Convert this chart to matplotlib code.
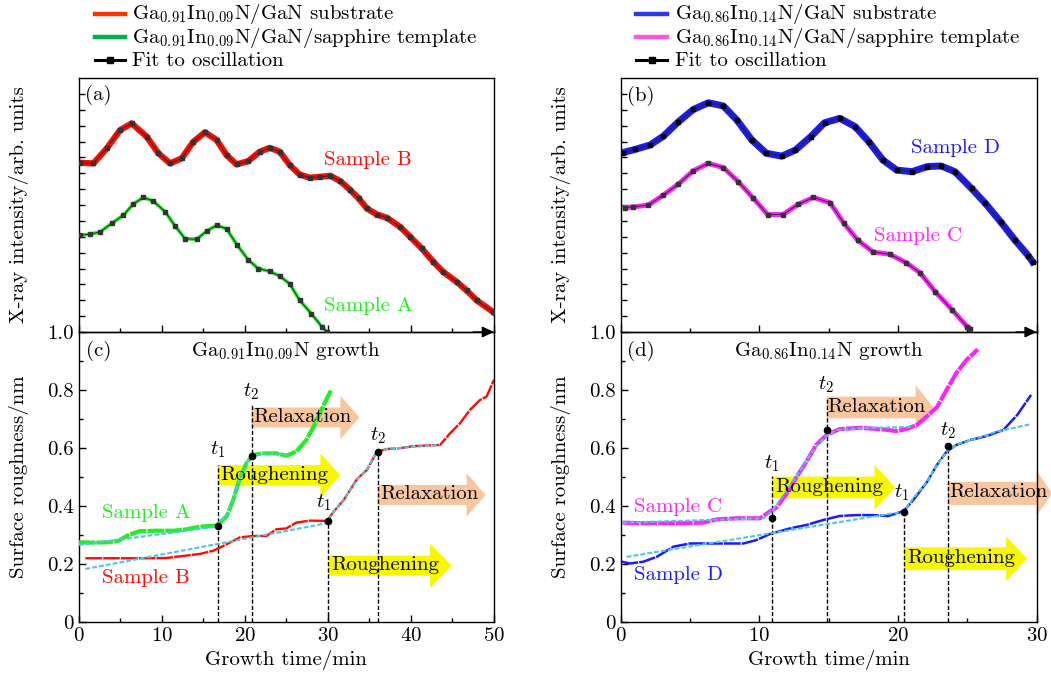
import numpy as np
import matplotlib
matplotlib.use("Agg")
import matplotlib.pyplot as plt
from matplotlib.lines import Line2D
from matplotlib.patches import FancyArrow

plt.rcParams['font.family'] = ['cmr10', 'DejaVu Serif']
plt.rcParams['mathtext.fontset'] = 'cm'
plt.rcParams['axes.formatter.use_mathtext'] = True
plt.rcParams['lines.scale_dashes'] = False
plt.rcParams['axes.linewidth'] = 1.0

# ---- (a) X-ray intensity, Ga0.91In0.09N ----
tB = [0.16, 1.77, 3.37, 4.98, 6.38, 8.19, 9.59, 11.0, 12.4, 13.8, 15.2, 16.6, 17.8, 19.0,
      20.4, 21.8, 23.0, 24.2, 25.4, 26.6, 27.8, 29.1, 30.3, 31.5, 32.7, 33.7, 34.7, 35.9,
      37.1, 38.7, 39.9, 41.3, 42.7, 43.9, 45.5, 46.7, 47.9, 49.9]
iB = [6.33, 6.31, 6.78, 7.36, 7.57, 7.15, 6.63, 6.31, 6.47, 6.99, 7.29, 7.05, 6.57, 6.28,
      6.38, 6.68, 6.80, 6.68, 6.26, 5.96, 5.86, 5.89, 5.92, 5.75, 5.47, 5.21, 4.89, 4.70,
      4.60, 4.31, 4.00, 3.63, 3.21, 2.89, 2.58, 2.31, 2.00, 1.63]
tA = [0.16, 1.36, 2.57, 3.97, 5.38, 6.58, 7.78, 8.99, 10.4, 11.6, 12.8, 14.2, 15.4, 16.6,
      17.8, 19.1, 20.4, 21.6, 23.0, 24.2, 25.4, 26.6, 28.0, 29.3, 29.9]
iA = [4.05, 4.08, 4.15, 4.42, 4.68, 5.03, 5.24, 5.12, 4.79, 4.34, 3.94, 3.92, 4.18, 4.36,
      4.25, 3.73, 3.28, 3.00, 2.91, 2.76, 2.52, 2.00, 1.58, 1.16, 1.00]

# ---- (b) X-ray intensity, Ga0.86In0.14N ----
tD = [0.14, 1.03, 2.12, 3.08, 4.16, 5.24, 6.32, 7.40, 8.37, 9.45, 10.5, 11.6, 12.6, 13.7,
      14.7, 15.8, 16.9, 17.9, 18.9, 19.9, 21.0, 22.1, 23.1, 24.1, 25.3, 26.3, 27.4, 28.4,
      29.4, 29.7]
iD = [6.65, 6.75, 6.89, 7.17, 7.62, 8.01, 8.22, 8.12, 7.68, 7.05, 6.63, 6.54, 6.73, 7.15,
      7.59, 7.73, 7.47, 6.99, 6.42, 6.10, 6.05, 6.21, 6.23, 6.05, 5.52, 5.05, 4.47, 3.91,
      3.40, 3.21]
tC = [0.31, 0.91, 2.00, 3.08, 4.16, 5.24, 6.32, 7.40, 8.49, 9.57, 10.6, 11.7, 12.8, 13.9,
      15.1, 16.1, 17.1, 18.2, 19.4, 20.6, 21.6, 22.7, 23.9, 25.0, 25.2]
iC = [4.92, 4.94, 5.00, 5.31, 5.66, 6.08, 6.31, 6.18, 5.73, 5.21, 4.70, 4.70, 5.02, 5.24,
      5.07, 4.42, 3.89, 3.52, 3.45, 3.18, 2.86, 2.26, 1.70, 1.16, 1.11]

# ---- (c) roughness, Ga0.91In0.09N ----
rA_t = [0.0, 1.77, 3.37, 4.78, 5.98, 7.38, 9.39, 11.4, 13.0, 14.6, 16.6, 17.8, 18.6, 19.4,
        20.2, 21.0, 22.2, 23.8, 25.0, 26.2, 27.4, 28.5, 29.5, 30.4]
rA = [0.274, 0.273, 0.274, 0.279, 0.299, 0.313, 0.314, 0.314, 0.319, 0.328, 0.332, 0.363,
      0.420, 0.495, 0.547, 0.576, 0.581, 0.581, 0.573, 0.587, 0.627, 0.685, 0.748, 0.800]
rB_t = [0.8, 2.57, 4.57, 6.58, 8.59, 10.6, 12.6, 14.6, 16.2, 17.8, 19.4, 21.0, 22.6, 23.8,
        25.0, 26.2, 27.8, 29.9, 30.7, 31.9, 33.5, 34.7, 35.9, 37.1, 38.7, 40.3, 41.9, 43.5,
        44.7, 45.9, 47.1, 48.3, 49.1, 50.0]
rB = [0.219, 0.219, 0.219, 0.219, 0.219, 0.220, 0.227, 0.234, 0.245, 0.267, 0.291, 0.296,
      0.296, 0.319, 0.322, 0.342, 0.349, 0.348, 0.380, 0.420, 0.492, 0.524, 0.587, 0.596,
      0.599, 0.606, 0.608, 0.610, 0.650, 0.685, 0.731, 0.765, 0.777, 0.835]
fitA_t = [0.0, 16.6, 17.8, 18.6, 19.4, 20.2, 20.9, 22.2, 23.8, 25.4]
fitA = [0.265, 0.328, 0.368, 0.422, 0.495, 0.549, 0.572, 0.579, 0.579, 0.575]
fitB_t = [0.8, 29.9, 30.7, 31.9, 33.5, 34.7, 35.9, 37.1, 39.5, 43.5]
fitB = [0.182, 0.340, 0.380, 0.422, 0.489, 0.526, 0.587, 0.596, 0.602, 0.610]

# ---- (d) roughness, Ga0.86In0.14N ----
rC_t = [0.14, 1.39, 3.08, 4.28, 5.96, 6.92, 8.37, 10.05, 10.5, 11.25, 11.97, 12.7, 13.4,
        14.1, 14.86, 15.8, 17.26, 18.7, 19.9, 20.6, 21.35, 22.07, 22.8, 23.5, 24.2, 24.95,
        25.75]
rC = [0.342, 0.340, 0.340, 0.340, 0.342, 0.353, 0.357, 0.357, 0.372, 0.395, 0.443, 0.501,
      0.553, 0.610, 0.645, 0.665, 0.669, 0.665, 0.658, 0.665, 0.679, 0.708, 0.740, 0.800,
      0.858, 0.904, 0.940]
rD_t = [0.07, 0.67, 1.63, 2.6, 3.8, 5.0, 6.68, 8.85, 9.8, 10.77, 12.2, 13.4, 14.6, 15.8,
        17.0, 18.2, 19.3, 19.9, 20.4, 21.1, 22.1, 22.8, 23.5, 24.2, 25.2, 26.4, 27.6, 28.6,
        29.6]
rD = [0.207, 0.201, 0.207, 0.224, 0.259, 0.270, 0.270, 0.270, 0.282, 0.303, 0.322, 0.334,
      0.351, 0.365, 0.368, 0.368, 0.365, 0.374, 0.382, 0.420, 0.483, 0.541, 0.587, 0.610,
      0.627, 0.641, 0.662, 0.714, 0.783]
fitC_t = [0.14, 10.3, 11.0, 12.0, 12.9, 13.9, 14.8, 15.6, 17.5, 21.1]
fitC = [0.342, 0.357, 0.386, 0.455, 0.518, 0.593, 0.641, 0.662, 0.668, 0.673]
fitD_t = [0.43, 20.4, 21.1, 22.1, 22.8, 23.6, 24.5, 25.7, 27.1, 29.5]
fitD = [0.224, 0.380, 0.426, 0.483, 0.541, 0.593, 0.616, 0.633, 0.656, 0.681]

# transition points (t1, t2) and the top of their guide lines
tpA = [(16.73, 0.332, 0.541), (20.83, 0.573, 0.752)]
tpB = [(30.06, 0.348, 0.348), (36.0, 0.585, 0.585)]
tpC = [(10.9, 0.359, 0.504), (14.86, 0.662, 0.777)]
tpD = [(20.43, 0.380, 0.380), (23.58, 0.608, 0.608)]

RED, GREEN, BLUE, MAG = '#ff0a00', '#22ee22', '#1a1aff', '#ff22ff'
CYAN = '#4cc8d6'
PEACH, YELLOW = '#f9c6a0', '#f7f700'
FS = 15

fig = plt.figure(figsize=(10.51, 6.81), dpi=100)
W, H = 1051, 681


def add_ax(x0, x1, ytop, ybot):
    return fig.add_axes([x0 / W, 1 - ybot / H, (x1 - x0) / W, (ybot - ytop) / H])


axc = add_ax(78.7, 494, 332, 621.7)
axa = add_ax(78.7, 494, 78, 332)
axd = add_ax(620.7, 1036.7, 332, 621.7)
axb = add_ax(620.7, 1036.7, 78, 332)
for ax in (axa, axb):
    ax.patch.set_alpha(0)
    ax.set_zorder(2)


def style_top(ax, xmax):
    ax.set_xlim(0, xmax)
    ax.set_ylim(1.0, 9.0)
    ax.set_xticks(np.arange(0, xmax + 1, 10))
    ax.set_xticks(np.arange(5, xmax, 10), minor=True)
    ax.set_yticks(np.arange(1.5, 8.6, 0.5))
    ax.tick_params(which='both', direction='in', labelbottom=False, labelleft=False,
                   width=1)
    ax.tick_params(axis='x', which='major', length=5)
    ax.tick_params(axis='x', which='minor', length=3)
    ax.tick_params(axis='y', length=4.5)
    ax.set_ylabel('X-ray intensity/arb. units', fontsize=FS)
    ax.yaxis.set_label_coords(-0.12, 0.5)
    ann = ax.annotate('', xy=(1.0, 0), xycoords='axes fraction', xytext=(0.95, 0),
                      arrowprops=dict(arrowstyle='-|>,head_length=0.6,head_width=0.28',
                                      color='k', lw=1, mutation_scale=12,
                                      shrinkA=0, shrinkB=0),
                      annotation_clip=False)
    ann.arrow_patch.set_clip_on(False)


def style_bot(ax, xmax):
    ax.set_xlim(0, xmax)
    ax.set_ylim(0, 1.0)
    ax.set_xticks(np.arange(0, xmax + 1, 10))
    ax.set_xticks(np.arange(5, xmax, 10), minor=True)
    ax.set_yticks([0, 0.2, 0.4, 0.6, 0.8, 1.0])
    ax.set_yticklabels(['0', '0.2', '0.4', '0.6', '0.8', '1.0'])
    ax.set_yticks(np.arange(0.1, 1.0, 0.2), minor=True)
    ax.tick_params(which='both', direction='in', labelsize=FS, width=1)
    ax.tick_params(which='major', length=5)
    ax.tick_params(which='minor', length=3)
    ax.set_xlabel('Growth time/min', fontsize=FS, labelpad=4)
    ax.set_ylabel('Surface roughness/nm', fontsize=FS)
    ax.yaxis.set_label_coords(-0.12, 0.5)


def fit_line(ax, t, v, mcol, lw=0.7):
    ax.plot(t, v, '-', color='#2a2a2a', lw=lw, marker='s', ms=3.4, mfc=mcol, mec=mcol,
            zorder=3)


def label_arrow(ax, x0, x1, yc, body, head, hl, color, text, pad):
    ax.add_patch(FancyArrow(x0, yc, x1 - x0, 0, width=body, head_width=head, head_length=hl,
                            length_includes_head=True, color=color, lw=0, zorder=1,
                            clip_on=False))
    ax.text(x0 + pad, yc + 0.003, text, fontsize=FS, ha='left', va='center', zorder=5)


def marks(ax, pts, labels_xy):
    for (x, y, ytop), (lx, ly, lab) in zip(pts, labels_xy):
        ax.plot([x, x], [0, ytop], color='k', lw=1.0, ls=(0, (3, 1.5)), zorder=2)
        ax.plot(x, y, 'o', color='k', ms=4.5, zorder=6)
        ax.text(lx, ly, lab, fontsize=FS, ha='center', va='center', zorder=5)


dash = (0, (12, 0.8))

# (a)
style_top(axa, 50)
axa.plot(tB, iB, color=RED, lw=4.5, zorder=2, solid_joinstyle='round')
fit_line(axa, tB, iB, '#333333')
axa.plot(tA, iA, color=GREEN, lw=2.6, zorder=2, solid_joinstyle='round')
fit_line(axa, tA, iA, '#333333')
axa.text(2.4, 8.47, '(a)', fontsize=FS, va='center', ha='center')
axa.text(29.5, 6.42, 'Sample B', color=RED, fontsize=FS, va='center')
axa.text(29.5, 1.82, 'Sample A', color=GREEN, fontsize=FS, va='center')

# (b)
style_top(axb, 30)
axb.plot(tD, iD, color=BLUE, lw=5.0, zorder=2, solid_joinstyle='round')
fit_line(axb, tD, iD, '#000000', lw=1.0)
axb.plot(tC, iC, color=MAG, lw=3.6, zorder=2, solid_joinstyle='round')
fit_line(axb, tC, iC, '#333333')
axb.text(1.45, 8.43, '(b)', fontsize=FS, va='center', ha='center')
axb.text(20.9, 6.78, 'Sample D', color=BLUE, fontsize=FS, va='center')
axb.text(18.3, 4.02, 'Sample C', color=MAG, fontsize=FS, va='center')

# (c)
style_bot(axc, 50)
label_arrow(axc, 20.8, 33.8, 0.705, 0.069, 0.15, 2.3, PEACH, 'Relaxation', 0.25)
label_arrow(axc, 16.8, 31.5, 0.505, 0.071, 0.152, 2.4, YELLOW, 'Roughening', 0.3)
label_arrow(axc, 36.0, 49.0, 0.4375, 0.069, 0.149, 2.3, PEACH, 'Relaxation', 0.25)
label_arrow(axc, 30.06, 44.9, 0.1935, 0.069, 0.153, 2.6, YELLOW, 'Roughening', 0.3)
axc.plot(rA_t, rA, color=GREEN, lw=3.0, ls=dash, zorder=3)
axc.plot(rB_t, rB, color=RED, lw=1.7, ls=dash, zorder=3)
axc.plot(fitA_t, fitA, color=CYAN, lw=1.5, ls=(0, (3.5, 1.5)), zorder=4)
axc.plot(fitB_t, fitB, color=CYAN, lw=1.5, ls=(0, (3.5, 1.5)), zorder=4)
marks(axc, tpA, [(16.8, 0.593, '$t_1$'), (20.8, 0.794, '$t_2$')])
marks(axc, tpB, [(29.45, 0.411, '$t_1$'), (36.0, 0.641, '$t_2$')])
axc.text(2.8, 0.374, 'Sample A', color=GREEN, fontsize=FS, va='center')
axc.text(2.8, 0.150, 'Sample B', color=RED, fontsize=FS, va='center')
axc.text(2.4, 0.935, '(c)', fontsize=FS, va='center', ha='center')
axc.text(25.0, 0.935, r'Ga$_{0.91}$In$_{0.09}$N growth', fontsize=FS, va='center',
         ha='center')

# (d)
style_bot(axd, 30)
label_arrow(axd, 14.86, 22.55, 0.7395, 0.075, 0.155, 1.28, PEACH, 'Relaxation', 0.07)
label_arrow(axd, 10.94, 19.8, 0.4635, 0.075, 0.155, 1.5, YELLOW, 'Roughening', 0.2)
label_arrow(axd, 23.58, 31.1, 0.443, 0.08, 0.156, 1.1, PEACH, 'Relaxation', 0.1)
label_arrow(axd, 20.43, 29.3, 0.2175, 0.079, 0.155, 1.5, YELLOW, 'Roughening', 0.2)
axd.plot(rC_t, rC, color=MAG, lw=3.0, ls=dash, zorder=3)
axd.plot(rD_t, rD, color=BLUE, lw=1.8, ls=dash, zorder=3)
axd.plot(fitC_t, fitC, color=CYAN, lw=1.5, ls=(0, (3.5, 1.5)), zorder=4)
axd.plot(fitD_t, fitD, color=CYAN, lw=1.5, ls=(0, (3.5, 1.5)), zorder=4)
marks(axd, tpC, [(10.9, 0.547, '$t_1$'), (14.8, 0.817, '$t_2$')])
marks(axd, tpD, [(20.3, 0.445, '$t_1$'), (23.6, 0.66, '$t_2$')])
axd.text(0.96, 0.397, 'Sample C', color=MAG, fontsize=FS, va='center')
axd.text(0.96, 0.161, 'Sample D', color=BLUE, fontsize=FS, va='center')
axd.text(1.45, 0.935, '(d)', fontsize=FS, va='center', ha='center')
axd.text(15.0, 0.935, r'Ga$_{0.86}$In$_{0.14}$N growth', fontsize=FS, va='center',
         ha='center')

# legends above each column
leg_left = [('#ff3300', r'Ga$_{0.91}$In$_{0.09}$N/GaN substrate', False),
            ('#00b050', r'Ga$_{0.91}$In$_{0.09}$N/GaN/sapphire template', False),
            ('#000000', 'Fit to oscillation', True)]
leg_right = [('#2b3be8', r'Ga$_{0.86}$In$_{0.14}$N/GaN substrate', False),
             ('#ff55dd', r'Ga$_{0.86}$In$_{0.14}$N/GaN/sapphire template', False),
             ('#000000', 'Fit to oscillation', True)]
for (lx0, lx1, tx), items in [((95, 125, 132), leg_left), ((636, 667, 675), leg_right)]:
    for k, (col, lab, is_fit) in enumerate(items):
        yy = 1 - (14 + 23 * k) / H
        if is_fit:
            fig.add_artist(Line2D([lx0 / W, lx1 / W], [yy, yy], color=col, lw=2.2,
                                  marker='', transform=fig.transFigure))
            fig.add_artist(Line2D([(lx0 + lx1) / 2 / W], [yy], color=col, marker='s',
                                  ms=5, transform=fig.transFigure))
        else:
            fig.add_artist(Line2D([lx0 / W, lx1 / W], [yy, yy], color=col, lw=3.2,
                                  transform=fig.transFigure))
        fig.text(tx / W, yy - 5.5 / H, lab, fontsize=FS, va='baseline', ha='left')

fig.savefig('out.png', dpi=100)
